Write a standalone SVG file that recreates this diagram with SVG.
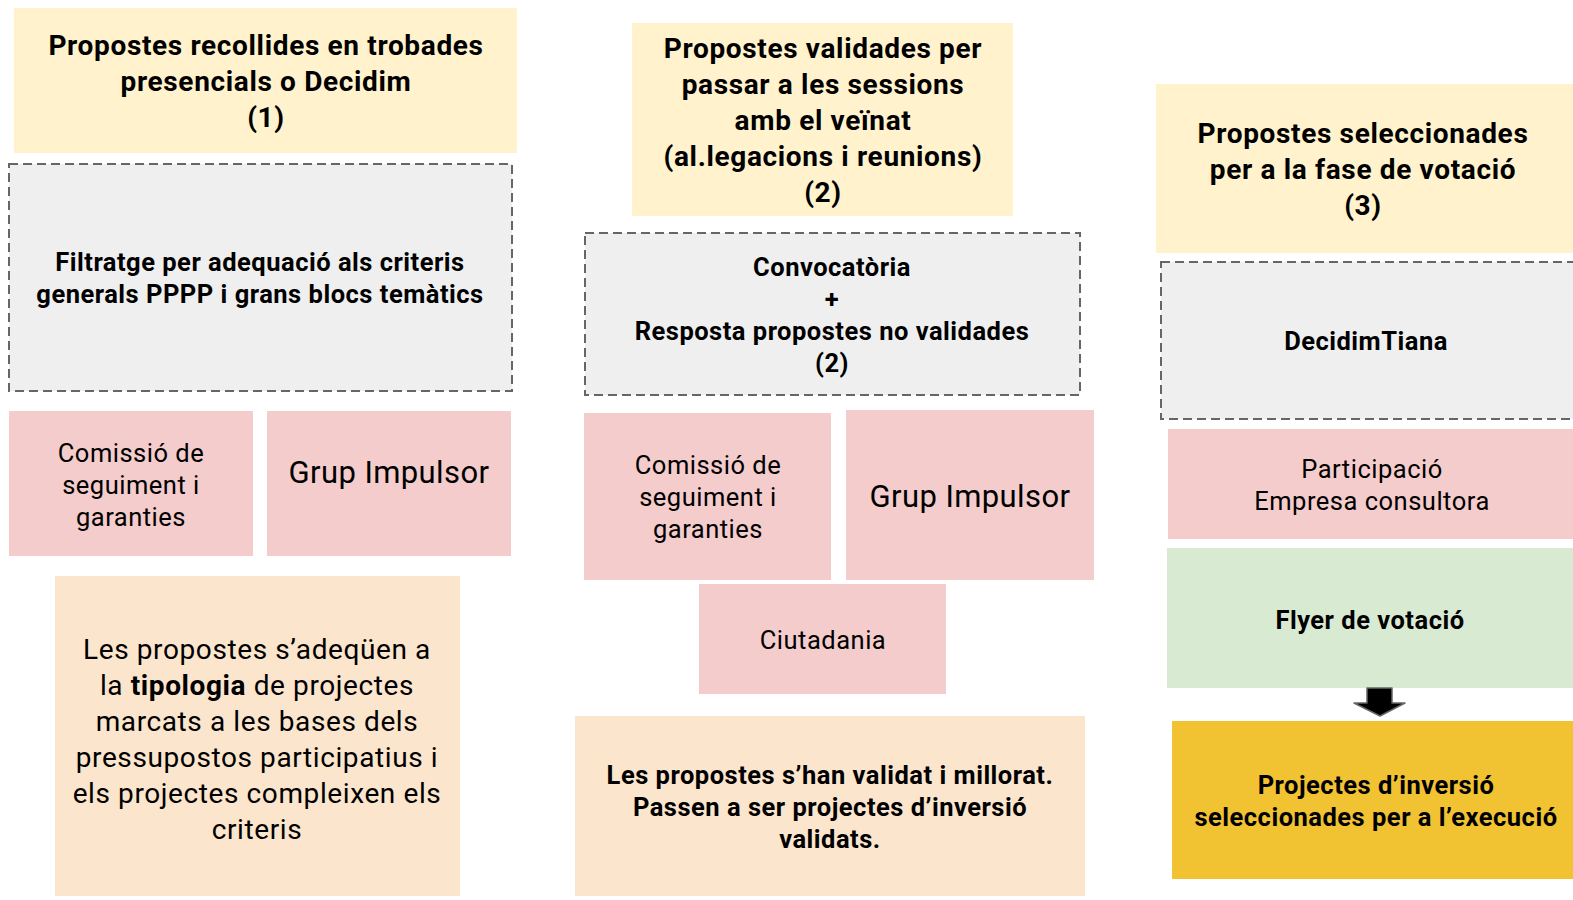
<svg xmlns="http://www.w3.org/2000/svg" width="1573" height="900" viewBox="0 0 1573 900">
<style>
.t{font-family:Roboto,"Liberation Sans",sans-serif;fill:#000;text-anchor:middle}
.b{font-weight:bold}
.h{font-size:28px;font-weight:bold;letter-spacing:0.65px}
.m{font-size:25.5px;letter-spacing:0.5px}
.l{font-size:28px;letter-spacing:0.6px}
.gi{font-size:31px;letter-spacing:0.4px}
.y{fill:#fff2cc}
.g{fill:#efefef;stroke:#666;stroke-width:2;stroke-dasharray:9 5}
.p{fill:#f4cccc}
.o{fill:#fce5cd}
</style>
<rect width="1573" height="900" fill="#fff"/>
<g id="n1">
<rect class="y" x="14" y="8" width="503" height="145"/>
<text class="t h" x="266" y="55">Propostes recollides en trobades</text>
<text class="t h" x="266" y="91">presencials o Decidim</text>
<text class="t h" x="266" y="127">(1)</text>
</g>
<g id="n2">
<rect class="g" x="9" y="164" width="503" height="227"/>
<text class="t m b" x="260" y="271">Filtratge per adequació als criteris</text>
<text class="t m b" x="260" y="303">generals PPPP i grans blocs temàtics</text>
</g>
<g id="n3">
<rect class="p" x="9" y="411" width="244" height="145"/>
<text class="t m" x="131" y="462">Comissió de</text>
<text class="t m" x="131" y="494">seguiment i</text>
<text class="t m" x="131" y="526">garanties</text>
</g>
<g id="n4">
<rect class="p" x="267" y="411" width="244" height="145"/>
<text class="t gi" x="389" y="483">Grup Impulsor</text>
</g>
<g id="n5">
<rect class="o" x="55" y="576" width="405" height="320"/>
<text class="t l" x="257" y="659">Les propostes s’adeqüen a</text>
<text class="t l" x="257" y="695">la <tspan font-weight="bold">tipologia</tspan> de projectes</text>
<text class="t l" x="257" y="731">marcats a les bases dels</text>
<text class="t l" x="257" y="767">pressupostos participatius i</text>
<text class="t l" x="257" y="803">els projectes compleixen els</text>
<text class="t l" x="257" y="839">criteris</text>
</g>
<g id="n6">
<rect class="y" x="632" y="23" width="381" height="193"/>
<text class="t h" x="823" y="58">Propostes validades per</text>
<text class="t h" x="823" y="94">passar a les sessions</text>
<text class="t h" x="823" y="130">amb el veïnat</text>
<text class="t h" x="823" y="166">(al.legacions i reunions)</text>
<text class="t h" x="823" y="202">(2)</text>
</g>
<g id="n7">
<rect class="g" x="585" y="233" width="495" height="162"/>
<text class="t m b" x="832" y="276">Convocatòria</text>
<text class="t m b" x="832" y="308">+</text>
<text class="t m b" x="832" y="340">Resposta propostes no validades</text>
<text class="t m b" x="832" y="372">(2)</text>
</g>
<g id="n8">
<rect class="p" x="584" y="413" width="247" height="167"/>
<text class="t m" x="708" y="474">Comissió de</text>
<text class="t m" x="708" y="506">seguiment i</text>
<text class="t m" x="708" y="538">garanties</text>
</g>
<g id="n9">
<rect class="p" x="846" y="410" width="248" height="170"/>
<text class="t gi" x="970" y="507">Grup Impulsor</text>
</g>
<g id="n10">
<rect class="p" x="699" y="584" width="247" height="110"/>
<text class="t m" x="823" y="649">Ciutadania</text>
</g>
<g id="n11">
<rect class="o" x="575" y="716" width="510" height="180"/>
<text class="t m b" x="830" y="784">Les propostes s’han validat i millorat.</text>
<text class="t m b" x="830" y="816">Passen a ser projectes d’inversió</text>
<text class="t m b" x="830" y="848">validats.</text>
</g>
<g id="n12">
<rect class="y" x="1156" y="84" width="420" height="169"/>
<text class="t h" x="1363" y="143">Propostes seleccionades</text>
<text class="t h" x="1363" y="179">per a la fase de votació</text>
<text class="t h" x="1363" y="215">(3)</text>
</g>
<g id="n13">
<rect class="g" x="1161" y="262" width="420" height="157"/>
<text class="t m b" x="1366" y="350">DecidimTiana</text>
</g>
<g id="n14">
<rect class="p" x="1168" y="429" width="410" height="110"/>
<text class="t m" x="1372" y="478">Participació</text>
<text class="t m" x="1372" y="510">Empresa consultora</text>
</g>
<g id="n15">
<rect x="1167" y="548" width="410" height="140" fill="#d9ead3"/>
<text class="t m b" x="1370" y="629">Flyer de votació</text>
</g>
<g id="n16">
<rect x="1172" y="721" width="405" height="158" fill="#f1c232"/>
<text class="t m b" x="1376" y="794">Projectes d’inversió</text>
<text class="t m b" x="1376" y="826">seleccionades per a l’execució</text>
</g>
<g id="connectors">
<path d="M1367 688 H1392 V703 H1405 L1380 716 L1354 703 H1367 Z" fill="#000" stroke="#666" stroke-width="1.5" stroke-linejoin="round"/>
</g>
</svg>
